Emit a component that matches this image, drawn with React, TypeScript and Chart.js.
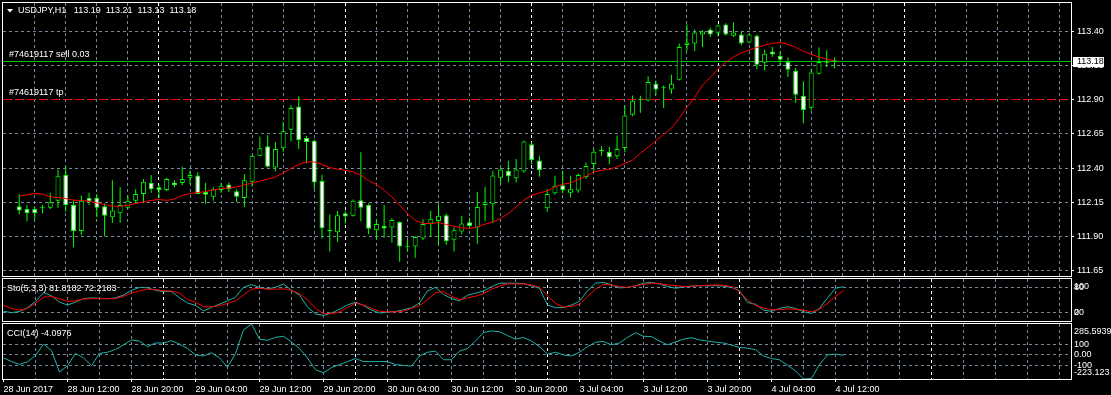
import React, { useEffect, useRef } from "react";
import { Chart, registerables } from "chart.js";

Chart.register(...registerables);

// ---------------- data ----------------
const symbolName = "USDJPY,H1";

const opens = [
  112.12, 112.10, 112.10, 112.105, 112.11, 112.16, 112.35, 112.13, 111.94, 112.18,
  112.18, 112.12, 112.04, 112.07, 112.11, 112.16, 112.21, 112.29, 112.26, 112.24,
  112.295, 112.29, 112.33, 112.345, 112.225, 112.19, 112.24, 112.28, 112.23, 112.18,
  112.30, 112.49, 112.56, 112.405, 112.545, 112.68, 112.85, 112.62, 112.60, 112.305,
  111.944, 111.93, 112.07, 112.05, 112.165, 112.13, 111.945, 111.975, 111.965, 112.005,
  111.82, 111.825, 111.885, 111.993, 112.013, 112.055, 111.875, 111.935, 112.003, 111.965,
  112.13, 112.135, 112.33, 112.378, 112.325, 112.375, 112.575, 112.455, 112.105, 112.215,
  112.275, 112.22, 112.235, 112.335, 112.43, 112.525, 112.518, 112.486, 112.547, 112.79,
  112.90, 112.895, 113.018, 112.985, 112.975, 113.047, 113.302, 113.312, 113.378, 113.415,
  113.39, 113.451, 113.368, 113.378, 113.32, 113.368, 113.172, 113.253, 113.22, 113.177,
  113.113, 112.93, 112.841, 113.09, 113.172, 113.19,
];
const highs = [
  112.21, 112.13, 112.12, 112.13, 112.22, 112.39, 112.41, 112.16, 112.20, 112.22,
  112.21, 112.14, 112.31, 112.26, 112.20, 112.245, 112.32, 112.35, 112.28, 112.33,
  112.31, 112.41, 112.38, 112.37, 112.29, 112.26, 112.29, 112.295, 112.245, 112.355,
  112.495, 112.63, 112.64, 112.59, 112.74, 112.86, 112.925, 112.635, 112.61, 112.35,
  112.06, 112.085, 112.085, 112.17, 112.515, 112.143, 112.025, 112.13, 112.03, 112.01,
  111.878, 111.90, 112.025, 112.09, 112.135, 112.067, 111.964, 112.05, 112.037, 112.226,
  112.263, 112.38, 112.405, 112.454, 112.466, 112.60, 112.59, 112.49, 112.245, 112.343,
  112.38, 112.343, 112.36, 112.44, 112.54, 112.564, 112.557, 112.638, 112.858, 112.932,
  112.93, 113.072, 113.042, 113.005, 113.084, 113.312, 113.454, 113.415, 113.41, 113.427,
  113.451, 113.461, 113.466, 113.398, 113.385, 113.378, 113.268, 113.287, 113.255, 113.209,
  113.133, 113.035, 113.128, 113.282, 113.263, 113.21,
];
const lows = [
  112.06, 112.01, 112.02, 112.07, 112.10, 112.11, 112.08, 111.82, 111.91, 112.13,
  112.04, 111.90, 112.00, 112.00, 112.10, 112.14, 112.15, 112.22, 112.18, 112.23,
  112.26, 112.275, 112.28, 112.21, 112.14, 112.16, 112.22, 112.225, 112.15, 112.115,
  112.265, 112.49, 112.405, 112.375, 112.52, 112.595, 112.54, 112.435, 112.245, 111.885,
  111.79, 111.86, 111.995, 112.045, 112.01, 111.915, 111.878, 111.89, 111.853, 111.714,
  111.792, 111.743, 111.873, 111.90, 111.83, 111.837, 111.79, 111.915, 111.96, 111.846,
  112.013, 112.00, 112.287, 112.295, 112.295, 112.363, 112.43, 112.336, 112.08, 112.204,
  112.214, 112.184, 112.22, 112.32, 112.38, 112.49, 112.43, 112.466, 112.515, 112.78,
  112.805, 112.89, 112.932, 112.84, 112.944, 113.042, 113.258, 113.258, 113.287, 113.36,
  113.366, 113.368, 113.36, 113.30, 113.312, 113.123, 113.116, 113.214, 113.152, 113.067,
  112.878, 112.728, 112.822, 113.087, 113.14, 113.13,
];
const closes = [
  112.09, 112.07, 112.07, 112.105, 112.15, 112.34, 112.13, 111.94, 112.16, 112.155,
  112.11, 112.05, 112.09, 112.13, 112.16, 112.21, 112.30, 112.245, 112.24, 112.32,
  112.275, 112.32, 112.35, 112.21, 112.205, 112.245, 112.27, 112.245, 112.19, 112.31,
  112.49, 112.545, 112.41, 112.54, 112.67, 112.84, 112.605, 112.59, 112.295, 111.96,
  111.94, 112.055, 112.045, 112.16, 112.11, 111.955, 111.99, 111.957, 112.02, 111.825,
  111.82, 111.895, 111.99, 112.025, 112.05, 111.865, 111.945, 111.995, 111.975, 112.115,
  112.15, 112.345, 112.39, 112.34, 112.39, 112.595, 112.46, 112.385, 112.21, 112.27,
  112.24, 112.245, 112.35, 112.415, 112.52, 112.525, 112.48, 112.54, 112.785, 112.893,
  112.905, 113.03, 112.976, 112.985, 113.018, 113.287, 113.319, 113.393, 113.40, 113.378,
  113.444, 113.378, 113.393, 113.312, 113.378, 113.157, 113.238, 113.231, 113.194, 113.12,
  112.937, 112.826, 113.10, 113.177, 113.182, 113.18,
];
const maValues = [
  112.194, 112.204, 112.214, 112.209, 112.189, 112.185, 112.177, 112.165, 112.163, 112.157,
  112.145, 112.133, 112.121, 112.121, 112.126, 112.141, 112.152, 112.163, 112.170, 112.163,
  112.174, 112.199, 112.214, 112.221, 112.228, 112.240, 112.250, 112.255, 112.262, 112.277,
  112.291, 112.304, 112.319, 112.335, 112.365, 112.397, 112.426, 112.445, 112.445, 112.426,
  112.404, 112.392, 112.384, 112.372, 112.348, 112.308, 112.280, 112.238, 112.189, 112.128,
  112.067, 112.018, 111.994, 111.994, 112.002, 111.987, 111.974, 111.962, 111.958, 111.969,
  111.989, 112.006, 112.031, 112.067, 112.116, 112.165, 112.201, 112.218, 112.233, 112.262,
  112.282, 112.291, 112.316, 112.340, 112.372, 112.384, 112.390, 112.409, 112.434, 112.458,
  112.509, 112.553, 112.600, 112.648, 112.692, 112.765, 112.846, 112.919, 113.007, 113.065,
  113.124, 113.175, 113.214, 113.243, 113.265, 113.283, 113.300, 113.314, 113.319, 113.307,
  113.283, 113.256, 113.232, 113.214, 113.197, 113.185,
];
const stochK = [
  23, 20, 22.5, 31.7, 46.7, 67.5, 60, 45, 38, 45,
  53.3, 55, 54, 53, 55, 61.7, 73, 80, 79, 73,
  70, 70, 55, 43, 37, 24, 32.5, 40, 48, 56.7,
  80, 86.7, 80, 76.7, 80, 88.3, 73, 61.7, 33, 16.7,
  13.3, 19, 28, 38, 45, 37, 26, 19, 21, 22.5,
  26.7, 31.7, 43, 71.7, 80, 63.3, 53.3, 48, 61.7, 66,
  71.7, 81.7, 90, 90, 90, 89, 84, 78, 38, 31.7,
  32, 38, 47, 72, 90, 92, 86, 79, 80, 84,
  90, 92, 88, 82, 78, 81, 83, 84, 84, 84,
  83, 80, 72, 44, 40, 26, 23, 30, 34, 30,
  22, 18, 30, 55, 78, 81.8182,
];
const stochD = [
  38, 30, 26, 30, 42.5, 56.7, 58, 53, 46.7, 48,
  52.5, 53.3, 53.3, 53.3, 53.3, 59, 66.7, 71.7, 75.8, 75,
  71.7, 71.7, 66.7, 50.8, 45, 34, 34, 36.7, 41.7, 48,
  61.7, 75.8, 78, 75.8, 75.8, 76.7, 73, 65, 50.8, 30,
  17.5, 17.5, 21.7, 31.7, 42.5, 38, 30, 23.3, 21.7, 21.7,
  23.3, 30, 36.7, 50.8, 67.5, 70, 59, 50.8, 55, 59,
  65, 75.8, 83, 88.3, 88.3, 88.3, 86, 80, 60, 42,
  33, 35, 40, 58, 76, 87, 86, 82, 80, 84,
  87, 90, 89, 86, 84, 82, 83, 84, 85, 86,
  85, 82, 70, 50, 37, 31, 27, 27, 29, 28,
  26, 22, 28, 42, 58, 72.2183,
];
const cciValues = [
  -28, -62, -88, -65, -5, 100, 40, -159, -100, 14,
  -28, -100, 14, 24, 50, 93, 138, 128, 76, 110,
  110, 131, 100, 59, 0, -10, 20, -28, -114, 12,
  231, 285.5939, 145, 135, 162, 172, 120, 59, -28, -138,
  -166, -117, -90, -62, -34, -62, -62, -62, -62, -90,
  -97, -104, -10, 24, 35, -45, -45, 35, 59, 128,
  207, 221, 214, 179, 145, 162, 128, 76, 7, 24,
  0, -10, 24, 76, 117, 124, 93, 110, 162, 204,
  172, 169, 128, 93, 120, 145, 159, 138, 128, 117,
  110, 90, 69, 62, 48, -10, -34, -45, -97, -148,
  -223.123, -218, -90, 0, 7, -4.0976,
];

const priceTicks = [111.65, 111.9, 112.15, 112.4, 112.65, 112.9, 113.15, 113.4];
const stoLevels = [20, 80];
const cciLevels = [-100, 0, 100];
const timeLabels = [
  "28 Jun 2017", "28 Jun 12:00", "28 Jun 20:00", "29 Jun 04:00", "29 Jun 12:00",
  "29 Jun 20:00", "30 Jun 04:00", "30 Jun 12:00", "30 Jun 20:00", "3 Jul 04:00",
  "3 Jul 12:00", "3 Jul 20:00", "4 Jul 04:00", "4 Jul 12:00",
];
const timeLabelBars = [0, 8, 16, 24, 32, 40, 48, 56, 64, 72, 80, 88, 96, 104];
const daySeparatorBars = [20, 44, 68, 92, 116];
const orderPrice = 113.18;
const tpPrice = 112.9;
const orderText = "#74619117 sell 0.03";
const tpText = "#74619117 tp";

// ---------------- styling ----------------
const W = 1111;
const AXIS_W = 40;
const X_MIN = -0.0625;
const X_MAX = 133.4375;
const Y_MAX = 113.6087;
const Y_MIN = 111.6097;
const GRID = "#778899";
const CANDLE = "#00ff00";
const ORDER_COLOR = "#00c000";
const TEAL = "#20b2aa";
const RED = "#ff0000";
const FONT_FAMILY = '"Liberation Sans", Arial, Helvetica, sans-serif';
const FONT_SIZE = 9;
const FONT = `${FONT_SIZE}px ${FONT_FAMILY}`;

function gridTicks(scale: any) {
  const t: any[] = [];
  for (let v = 0; v <= 132; v += 4) t.push({ value: v });
  scale.ticks = t;
}

function makeX(withLabels: boolean, axisH: number) {
  return {
    type: "linear",
    bounds: "data",
    min: X_MIN,
    max: X_MAX,
    afterBuildTicks: gridTicks,
    afterFit: (s: any) => {
      s.height = axisH;
      s.paddingLeft = 0;
      s.paddingRight = 0;
    },
    grid: {
      color: (c: any) =>
        c.tick && c.tick.value === 0
          ? "rgba(0,0,0,0)"
          : c.tick && daySeparatorBars.includes(c.tick.value)
          ? "#ffffff"
          : GRID,
      lineWidth: 1,
      drawTicks: withLabels,
      tickLength: 3,
      tickWidth: 1,
      tickColor: (c: any) =>
        c.tick && timeLabelBars.includes(c.tick.value) ? "#ffffff" : "rgba(0,0,0,0)",
      tickBorderDash: [],
    },
    border: { display: false, dash: [3, 3] },
    ticks: {
      display: withLabels,
      autoSkip: false,
      maxRotation: 0,
      minRotation: 0,
      align: "start",
      padding: 2,
      color: "#ffffff",
      font: { family: FONT_FAMILY, size: FONT_SIZE },
      callback: (v: number) => {
        const k = timeLabelBars.indexOf(v);
        return k >= 0 ? timeLabels[k] : "";
      },
    },
  };
}

function makeY(min: number, max: number, values: number[], fmt: (v: number) => string, withTicks: boolean) {
  return {
    position: "right",
    bounds: "data",
    min,
    max,
    afterBuildTicks: (s: any) => {
      s.ticks = values.map((v) => ({ value: v }));
    },
    afterFit: (s: any) => {
      s.width = AXIS_W;
      s.paddingTop = 0;
      s.paddingBottom = 0;
    },
    grid: {
      color: GRID,
      lineWidth: 1,
      drawTicks: withTicks,
      tickLength: 3,
      tickColor: "#ffffff",
      tickBorderDash: [],
    },
    border: { display: false, dash: [3, 3] },
    ticks: {
      color: "#ffffff",
      autoSkip: false,
      padding: 3,
      font: { family: FONT_FAMILY, size: FONT_SIZE },
      callback: (v: number) => fmt(v),
    },
  };
}

function drawFrame(chart: any) {
  const { ctx, chartArea: a } = chart;
  const L = a.left - 1, T = a.top - 1, R = a.right, B = a.bottom;
  ctx.save();
  ctx.fillStyle = "#ffffff";
  ctx.fillRect(L, T, R - L + 1, 1);
  ctx.fillRect(L, B, R - L + 1, 1);
  ctx.fillRect(L, T, 1, B - T + 1);
  ctx.fillRect(R, T, 1, B - T + 1);
  ctx.restore();
}

function drawText(ctx: any, s: string, x: number, y: number, color = "#ffffff") {
  ctx.save();
  ctx.font = FONT;
  ctx.fillStyle = color;
  ctx.textAlign = "left";
  ctx.textBaseline = "middle";
  ctx.fillText(s, x, y);
  ctx.restore();
}

const last = opens.length - 1;

const mainDecor = {
  id: "mainDecor",
  beforeDatasetsDraw(chart: any) {
    const { ctx, chartArea: a, scales } = chart;
    const yo = Math.round(scales.y.getPixelForValue(orderPrice) - 0.5) + 0.5;
    const yt = Math.round(scales.y.getPixelForValue(tpPrice) - 0.5) + 0.5;
    ctx.save();
    ctx.lineWidth = 1;
    ctx.strokeStyle = RED;
    ctx.setLineDash([8, 4]);
    ctx.beginPath();
    ctx.moveTo(a.left, yt);
    ctx.lineTo(a.right, yt);
    ctx.stroke();
    ctx.setLineDash([]);
    ctx.strokeStyle = ORDER_COLOR;
    ctx.beginPath();
    ctx.moveTo(a.left, yo);
    ctx.lineTo(a.right, yo);
    ctx.stroke();
    ctx.restore();
  },
  afterDraw(chart: any) {
    const { ctx, chartArea: a, scales } = chart;
    drawFrame(chart);
    // title with triangle
    ctx.save();
    ctx.fillStyle = "#ffffff";
    ctx.beginPath();
    ctx.moveTo(a.left + 4, a.top + 6);
    ctx.lineTo(a.left + 10, a.top + 6);
    ctx.lineTo(a.left + 7, a.top + 9.5);
    ctx.closePath();
    ctx.fill();
    ctx.restore();
    const title = `${symbolName}   ${opens[last].toFixed(2)}  ${highs[last].toFixed(2)}  ${lows[last].toFixed(2)}  ${closes[last].toFixed(2)}`;
    drawText(ctx, title, a.left + 15, a.top + 8);
    const yo = Math.round(scales.y.getPixelForValue(orderPrice) - 0.5) + 0.5;
    const yt = Math.round(scales.y.getPixelForValue(tpPrice) - 0.5) + 0.5;
    drawText(ctx, orderText, a.left + 6, yo - 6.5);
    drawText(ctx, tpText, a.left + 6, yt - 6.5);
    // current price box
    ctx.save();
    ctx.fillStyle = "#ffffff";
    ctx.fillRect(a.right + 2, Math.floor(yo) - 4, 31, 10);
    ctx.restore();
    drawText(ctx, closes[last].toFixed(2), a.right + 6, yo + 0.5, "#000000");
  },
};

const stoDecor = {
  id: "stoDecor",
  afterDraw(chart: any) {
    const { ctx, chartArea: a } = chart;
    drawFrame(chart);
    drawText(ctx, `Sto(5,3,3) ${stochK[last].toFixed(4)} ${stochD[last].toFixed(4)}`, a.left + 4, a.top + 10);
    drawText(ctx, "100", a.right + 3, a.top + 7.5);
    drawText(ctx, "0", a.right + 3, a.bottom - 8);
  },
};

const cciMax = Math.max(...cciValues);
const cciMin = Math.min(...cciValues);

const cciDecor = {
  id: "cciDecor",
  afterDraw(chart: any) {
    const { ctx, chartArea: a } = chart;
    drawFrame(chart);
    drawText(ctx, `CCI(14) ${cciValues[last].toFixed(4)}`, a.left + 4, a.top + 10);
    drawText(ctx, cciMax.toFixed(4), a.right + 3, a.top + 8);
    drawText(ctx, String(cciMin), a.right + 3, a.bottom - 6);
  },
};

const baseOptions = {
  responsive: false,
  maintainAspectRatio: false,
  animation: false,
  devicePixelRatio: 1,
  events: [],
  plugins: { legend: { display: false }, tooltip: { enabled: false }, title: { display: false } },
};

export default function App() {
  const mainRef = useRef<HTMLCanvasElement>(null);
  const stoRef = useRef<HTMLCanvasElement>(null);
  const cciRef = useRef<HTMLCanvasElement>(null);

  useEffect(() => {
    Chart.defaults.font.family = FONT_FAMILY;
    Chart.defaults.font.size = FONT_SIZE;
    const charts: any[] = [];

    const bodyData = opens.map((o, i) => ({ x: i, y: [o, closes[i]] }));
    const wickData = opens.map((_, i) => ({ x: i, y: [lows[i], highs[i]] }));
    const bodyColors = opens.map((o, i) => (closes[i] > o ? "#000000" : "#ffffff"));
    const maData = maValues.map((v, i) => ({ x: i, y: v }));

    charts.push(
      new Chart(mainRef.current as HTMLCanvasElement, {
        type: "bar",
        data: {
          datasets: [
            {
              type: "line",
              data: maData,
              borderColor: RED,
              borderWidth: 1,
              pointRadius: 0,
              tension: 0,
              order: 1,
            },
            {
              type: "bar",
              data: bodyData,
              grouped: false,
              barThickness: 5,
              backgroundColor: bodyColors,
              borderColor: CANDLE,
              borderWidth: 1,
              borderSkipped: false,
              minBarLength: 1,
              inflateAmount: 0,
              order: 2,
            },
            {
              type: "bar",
              data: wickData,
              grouped: false,
              barThickness: 1,
              backgroundColor: CANDLE,
              borderWidth: 0,
              inflateAmount: 0,
              order: 3,
            },
          ],
        } as any,
        options: {
          ...baseOptions,
          layout: { autoPadding: false, padding: { left: 3, top: 3, right: 0, bottom: 2 } },
          scales: {
            x: makeX(false, 0),
            y: makeY(Y_MIN, Y_MAX, priceTicks, (v) => v.toFixed(2), true),
          },
        } as any,
        plugins: [mainDecor],
      })
    );

    charts.push(
      new Chart(stoRef.current as HTMLCanvasElement, {
        type: "line",
        data: {
          datasets: [
            { data: stochD.map((v, i) => ({ x: i, y: v })), borderColor: RED, borderWidth: 1, pointRadius: 0, order: 0 },
            { data: stochK.map((v, i) => ({ x: i, y: v })), borderColor: TEAL, borderWidth: 1, pointRadius: 0, order: 1 },
          ],
        } as any,
        options: {
          ...baseOptions,
          layout: { autoPadding: false, padding: { left: 3, top: 1, right: 0, bottom: 1 } },
          scales: {
            x: makeX(false, 0),
            y: makeY(0, 100, stoLevels, (v) => String(v), false),
          },
        } as any,
        plugins: [stoDecor],
      })
    );

    charts.push(
      new Chart(cciRef.current as HTMLCanvasElement, {
        type: "line",
        data: {
          datasets: [
            { data: cciValues.map((v, i) => ({ x: i, y: v })), borderColor: TEAL, borderWidth: 1, pointRadius: 0 },
          ],
        } as any,
        options: {
          ...baseOptions,
          layout: { autoPadding: false, padding: { left: 3, top: 2, right: 0, bottom: 0 } },
          scales: {
            x: makeX(true, 16),
            y: makeY(cciMin, cciMax, cciLevels, (v) => (v === 0 ? "0.00" : String(v)), false),
          },
        } as any,
        plugins: [cciDecor],
      })
    );

    return () => charts.forEach((c) => c.destroy());
  }, []);

  return (
    <div
      style={{
        position: "fixed",
        left: 0,
        top: 0,
        width: W,
        height: 395,
        background: "#000000",
        overflow: "hidden",
      }}
    >
      <canvas ref={mainRef} width={W} height={278} style={{ position: "absolute", left: 0, top: 0 }} />
      <canvas ref={stoRef} width={W} height={44} style={{ position: "absolute", left: 0, top: 278 }} />
      <canvas ref={cciRef} width={W} height={73} style={{ position: "absolute", left: 0, top: 322 }} />
    </div>
  );
}
